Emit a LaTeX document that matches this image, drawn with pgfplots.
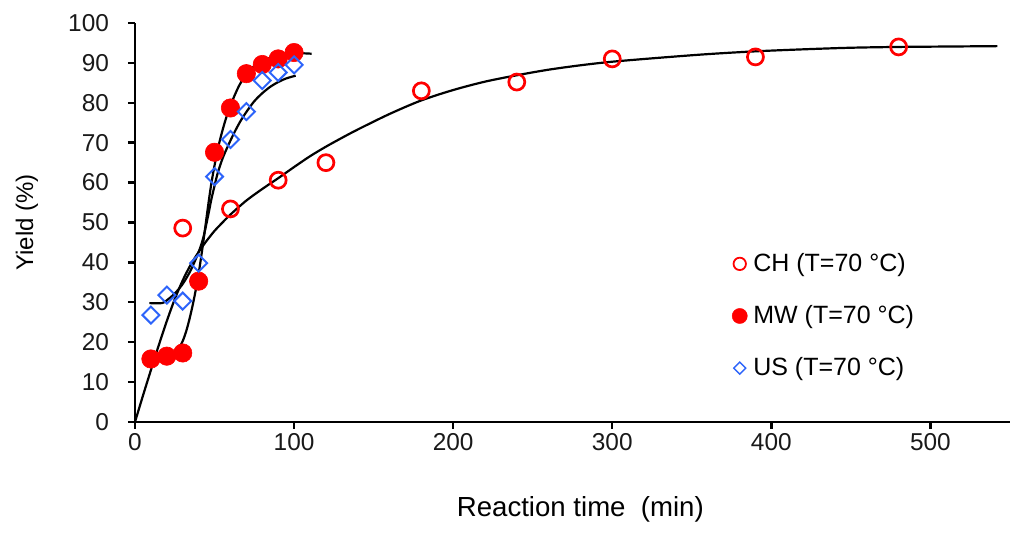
\documentclass[border=0pt]{standalone}
\usepackage{fontspec}
\setmainfont{Liberation Sans}
\usepackage{pgfplots}
\pgfplotsset{compat=1.18}
\definecolor{myred}{RGB}{255,0,0}
\definecolor{myblue}{RGB}{45,100,250}
\pgfplotsset{dotlegend/.style={legend image code/.code={\draw[##1] plot coordinates {(0pt,0pt)};}}}
\begin{document}
\begin{tikzpicture}
\path[use as bounding box] (-67.5pt,-56.5pt) rectangle (444.5pt,211pt);
\begin{axis}[
  at={(0,0)}, anchor=south west,
  width=437.5pt, height=199.5pt, scale only axis,
  xmin=0, xmax=550, ymin=0, ymax=100,
  axis x line*=bottom, axis y line*=left,
  axis line style={line width=1.2pt, black},
  xtick={0,100,200,300,400,500},
  ytick={0,10,...,100},
  tick align=outside,
  major tick length=3.5pt,
  tick style={line width=1.2pt, black},
  /pgf/number format/assume math mode=true,
  ticklabel style={font=\fontsize{12.2}{14}\selectfont, text=black!90},
  yticklabel style={xshift=-6pt},
  xticklabel style={yshift=1.5pt},
  xlabel={Reaction time\ \ (min)},
  ylabel={Yield (\%)},
  xlabel style={font=\fontsize{13.8}{16}\selectfont, at={(axis description cs:0.509,-0.22)}, anchor=center},
  ylabel style={font=\fontsize{12}{14}\selectfont, at={(axis description cs:-0.1234,0.5)}, anchor=center},
  clip=false,
  legend cell align=left,
  legend style={at={(axis description cs:0.682,0.2657)}, anchor=west, draw=none, fill=none,
    inner sep=0pt, row sep=12.5pt, column sep=1.5pt,
    font=\fontsize{12.5}{14}\selectfont, nodes={inner sep=1.5pt}},
]
% fitted curves
\addplot[black, line width=1.1pt, smooth, forget plot] coordinates {
(0,0) (5,6.6) (10,13) (15,19.3) (20,25.3) (25,30.8) (30,35.5) (35,39.4) (40,42.6) (45,45.4) (50,47.9) (55,50) (60,52) (70,55.5) (80,58.4) (90,61.1) (100,63.9) (110,66.6) (120,69) (130,71.2) (140,73.3) (160,77.2) (180,80.6) (200,83.2) (220,85.3) (240,86.9) (260,88.3) (280,89.4) (300,90.3) (330,91.3) (360,92.2) (390,92.9) (420,93.4) (450,93.8) (480,94) (510,94.1) (542,94.2)
};
\addplot[black, line width=1.1pt, smooth, forget plot] coordinates {
(10,15.4) (15,15.6) (20,16.1) (25,17.4) (28,18.8) (30,20.3) (32,22.5) (34,25.4) (36,28.8) (38,32.7) (40,37.2) (42,42.5) (44,48.3) (46,54.3) (48,59.8) (50,64.3) (52,68.3) (54,71.6) (56,74.5) (58,77.1) (60,79.3) (63,82.2) (66,84.7) (70,87.1) (74,88.9) (80,90.4) (87,91.6) (94,92.2) (100,92.4) (106,92.4) (111,92.3)
};
\addplot[black, line width=1.1pt, smooth, forget plot] coordinates {
(9,29.8) (17,29.8) (20,30.5) (25,32.2) (30,34.6) (35,38) (40,42.6) (43,46.3) (46,51.8) (48,55.8) (50,59.2) (52,62.4) (55,66) (58,68.8) (62,72.2) (66,75.2) (70,77.7) (75,80.4) (80,82.4) (85,84) (90,85.2) (95,86.1) (101,86.8)
};
% data markers
\addplot[only marks, mark=o, mark size=4pt, myred, line width=1.35pt, mark options={fill=white}, forget plot] coordinates {
(30,48.6) (60,53.4) (90,60.6) (120,65.0) (180,83.0) (240,85.2) (300,91.0) (390,91.5) (480,94.0)
};
\addplot[only marks, mark=*, mark size=4.6pt, myred, mark options={fill=myred, draw=myred, line width=0.3pt}, forget plot] coordinates {
(10,15.8) (20,16.5) (30,17.3) (40,35.3) (50,67.6) (60,78.7) (70,87.3) (80,89.6) (90,91.0) (100,92.6)
};
\addplot[only marks, mark=square, mark size=3pt, myblue, line width=1pt, mark options={rotate=45, fill=white}, forget plot] coordinates {
(10,26.8) (20,31.8) (30,30.3) (40,39.8) (50,61.5) (60,70.8) (70,77.8) (80,85.6) (90,87.6) (100,89.5)
};
% legend
\addlegendimage{dotlegend, only marks, mark=o, mark size=3.1pt, myred, line width=0.9pt}
\addlegendentry{CH (T=70 °C)}
\addlegendimage{dotlegend, only marks, mark=*, mark size=3.8pt, myred, mark options={fill=myred, draw=myred, line width=0.2pt}}
\addlegendentry{MW (T=70 °C)}
\addlegendimage{dotlegend, only marks, mark=square, mark size=2.1pt, myblue, line width=0.7pt, mark options={rotate=45, fill=white}}
\addlegendentry{US (T=70 °C)}
\end{axis}
\end{tikzpicture}
\end{document}
